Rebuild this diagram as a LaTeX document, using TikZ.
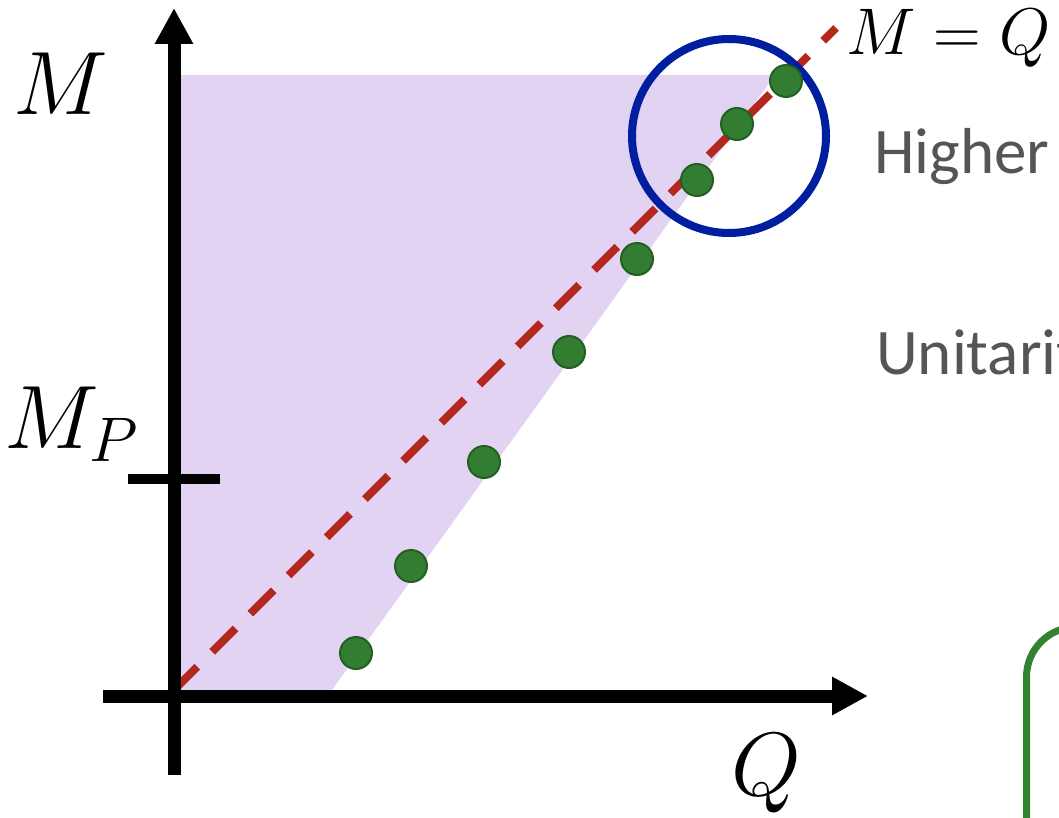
\RequirePackage{fix-cm}
\documentclass[tikz,border=0pt]{standalone}
\usepackage{fontspec}
\newfontfamily\carl{Carlito}
\usetikzlibrary{arrows.meta}
\definecolor{regionpurple}{RGB}{225,211,241}
\definecolor{dashred}{RGB}{181,38,30}
\definecolor{dotgreen}{RGB}{50,125,50}
\definecolor{dotedge}{RGB}{35,95,35}
\definecolor{ringblue}{RGB}{0,30,160}
\definecolor{textgray}{RGB}{85,85,85}
\definecolor{boxgreen}{RGB}{50,130,50}
\tikzset{
  axisline/.style={line width=13pt, -{Triangle[length=36pt,width=36pt]}},
  dotnode/.style={circle, fill=dotgreen, draw=dotedge, line width=2pt, minimum size=32pt, inner sep=0pt},
  mathlabel/.style={inner sep=0pt, anchor=base west, font=\fontsize{90}{90}\selectfont},
  bodytext/.style={inner sep=0pt, anchor=base west, text=textgray, font=\carl\fontsize{65}{65}\selectfont},
}
\begin{document}
\begin{tikzpicture}[x=1pt,y=-1pt]
\clip (0,0) rectangle (1059,818);
\useasboundingbox (0,0) rectangle (1059,818);
% region
\fill[regionpurple] (174,75) -- (775,75) -- (332,690) -- (174,690) -- cycle;
% diagonal
\coordinate (dstart) at (174,690);
\coordinate (dend) at (836,28);
\draw[dashred, line width=8pt, dash pattern=on 33pt off 21pt] (dstart) -- (dend);
% axes
\coordinate (ybot) at (174,775);
\coordinate (ytop) at (174,8);
\coordinate (xleft) at (103,696);
\coordinate (xright) at (868,696);
\draw[axisline] (ybot) -- (ytop);
\draw[axisline] (xleft) -- (xright);
% tick
\coordinate (tickl) at (128,479);
\coordinate (tickr) at (220,479);
\draw[line width=10pt] (tickl) -- (tickr);
% ring
\node[circle, draw=ringblue, line width=8pt, minimum size=194pt, inner sep=0pt] (ring) at (729,136) {};
% dots
\node[dotnode] (d1) at (356,653) {};
\node[dotnode] (d2) at (411,566) {};
\node[dotnode] (d3) at (484,462) {};
\node[dotnode] (d4) at (569,352) {};
\node[dotnode] (d5) at (637,259) {};
\node[dotnode] (d6) at (697,180) {};
\node[dotnode] (d7) at (737,124) {};
\node[dotnode] (d8) at (786,81) {};
% labels
\node[mathlabel] (lM) at (13,115) {$M$};
\node[mathlabel] (lMP) at (4,448) {$M_P$};
\node[mathlabel] (lQ) at (731,795) {$Q$};
\node[inner sep=0pt, anchor=base west, font=\fontsize{66}{66}\selectfont] (lMQ) at (846,55) {$M=Q$};
\node[bodytext] (t1) at (874,174) {Higher};
\node[bodytext] (t2) at (876,374) {Unitarity};
% green box
\coordinate (gb1) at (1026.5,830);
\coordinate (gb2) at (1026.5,627);
\coordinate (gb3) at (1120,627);
\draw[boxgreen, line width=7pt, rounded corners=50pt] (gb1) -- (gb2) -- (gb3);
\end{tikzpicture}
\end{document}
